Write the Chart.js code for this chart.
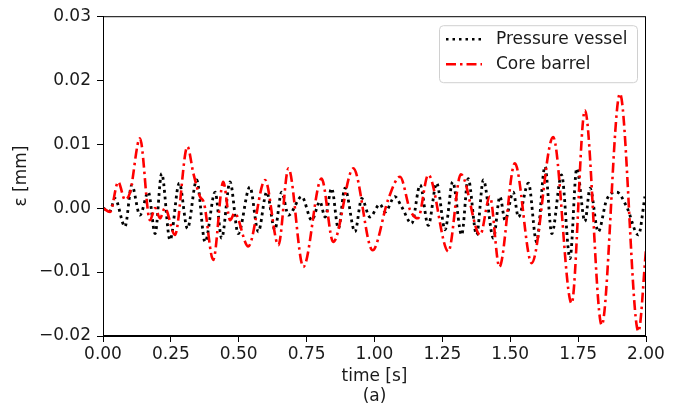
<!DOCTYPE html>
<html>
<head>
<meta charset="utf-8">
<script src="https://cdn.jsdelivr.net/npm/chart.js@4/dist/chart.umd.min.js"></script>
<style>
  html, body { margin: 0; padding: 0; background: #fff; }
  #wrap { width: 682px; height: 410px; }
</style>
</head>
<body>
<div id="wrap"><canvas id="chart" width="682" height="410"></canvas></div>
<script>
// pressure vessel (black dotted)
const pvTime = [0, 0.025, 0.044, 0.081, 0.106, 0.136, 0.167, 0.192, 0.216, 0.247, 0.281, 0.311,
  0.345, 0.376, 0.413, 0.437, 0.468, 0.498, 0.541, 0.572, 0.603, 0.633, 0.658, 0.683, 0.732,
  0.769, 0.799, 0.818, 0.842, 0.867, 0.891, 0.928, 0.953, 0.983, 1.02, 1.039, 1.075, 1.1,
  1.137, 1.168, 1.198, 1.229, 1.26, 1.288, 1.321, 1.345, 1.376, 1.401, 1.438, 1.462, 1.481,
  1.511, 1.53, 1.567, 1.597, 1.628, 1.653, 1.689, 1.72, 1.745, 1.775, 1.794, 1.824, 1.855,
  1.892, 1.929, 1.972, 1.996];
const pvValues = [0, -0.0005, 0.0015, -0.0029, 0.0036, -0.0011, 0.0025, -0.004, 0.0054, -0.005, 0.0039, -0.0032,
  0.0044, -0.0053, 0.0025, -0.0047, 0.0041, -0.004, 0.0033, -0.0037, 0.0025, -0.0034, 0.0025, -0.0011, 0.0018,
  -0.0019, 0.001, -0.0014, 0.0031, -0.0032, 0.0031, -0.0037, 0.0015, -0.0014, 0.0006, -0.0006, 0.0018, 0.0002,
  -0.0024, 0.0036, -0.0027, 0.0039, -0.0034, 0.0041, -0.0042, 0.0046, -0.0042, 0.0044, -0.0047, 0.0018, -0.0019,
  0.0025, -0.0014, 0.0039, -0.0053, 0.0065, -0.004, 0.0052, -0.0079, 0.0062, -0.0021, 0.0031, -0.0037, 0.0013,
  0.0025, 0.0002, -0.0042, 0.0018];

// core barrel (red dash-dot)
const cbTime = [0, 0.026, 0.056, 0.081, 0.1, 0.136, 0.173, 0.192, 0.21, 0.228, 0.265, 0.311,
  0.333, 0.357, 0.372, 0.406, 0.443, 0.468, 0.485, 0.535, 0.597, 0.646, 0.683, 0.738, 0.805,
  0.848, 0.922, 0.993, 1.05, 1.094, 1.131, 1.16, 1.198, 1.272, 1.318, 1.389, 1.425, 1.46,
  1.517, 1.579, 1.658, 1.726, 1.775, 1.837, 1.904, 1.972, 2.0];
const cbValues = [0, -0.0006, 0.0041, 0.0013, 0.0025, 0.0109, -0.0019, 0, -0.0016, 0, -0.0042, 0.0096,
  0.0054, 0.0018, 0.0008, -0.0081, 0.0041, -0.0019, -0.0008, -0.006, 0.0044, -0.0058, 0.0062, -0.0092, 0.0046,
  -0.0053, 0.0062, -0.0066, 0.0013, 0.0049, -0.0003, -0.0016, 0.0052, -0.0068, 0.0053, -0.0042, 0.0018, -0.0092,
  0.007, -0.0086, 0.0111, -0.0149, 0.0153, -0.0183, 0.0179, -0.0193, -0.0065];

const seriesNames = ['Pressure vessel', 'Core barrel'];
const xTicks = [0, 0.25, 0.5, 0.75, 1.0, 1.25, 1.5, 1.75, 2.0];
const yTicks = [-0.02, -0.01, 0, 0.01, 0.02, 0.03];

const FONT = 'DejaVu Sans';
const TXT = '#1a1a1a';
const FS = 17;

function fmt(v) {
  const s = Math.abs(v).toFixed(2);
  return v < -1e-9 ? '\u2212' + s : s;
}

const frameAndLegend = {
  id: 'frameAndLegend',
  afterDraw(chart) {
    const ctx = chart.ctx;
    const a = chart.chartArea;
    ctx.save();
    ctx.strokeStyle = '#000';
    ctx.lineWidth = 1;
    ctx.strokeRect(a.left + 0.5, a.top + 0.5, a.right - a.left - 1, a.bottom - a.top - 1);

    // legend box
    const bw = 198, bh = 57;
    const bx = a.right - 9 - bw, by = a.top + 9;
    ctx.beginPath();
    ctx.roundRect(bx + 0.5, by + 0.5, bw, bh, 4);
    ctx.fillStyle = 'rgba(255,255,255,0.8)';
    ctx.fill();
    ctx.strokeStyle = '#d0d0d0';
    ctx.stroke();

    const rows = [
      { y: by + 14, color: '#000', dash: [2.5, 4], w: 2.5 },
      { y: by + 39, color: '#ff0000', dash: [10, 4, 2.5, 4], w: 2.5 }
    ];
    rows.forEach((r, i) => {
      ctx.beginPath();
      ctx.setLineDash(r.dash);
      ctx.strokeStyle = r.color;
      ctx.lineWidth = r.w;
      ctx.moveTo(bx + 7, r.y);
      ctx.lineTo(bx + 43, r.y);
      ctx.stroke();
      ctx.setLineDash([]);
      ctx.fillStyle = TXT;
      ctx.font = FS + 'px "' + FONT + '"';
      ctx.textBaseline = 'middle';
      ctx.textAlign = 'left';
      ctx.fillText(seriesNames[i], bx + 57, r.y);
    });
    ctx.restore();
  }
};

const ctx = document.getElementById('chart').getContext('2d');
new Chart(ctx, {
  type: 'line',
  data: {
    datasets: [
      {
        label: seriesNames[0],
        data: pvTime.map((t, i) => ({ x: t, y: pvValues[i] })),
        borderColor: '#000',
        borderWidth: 2.8,
        borderDash: [2.8, 3.8],
        pointRadius: 0,
        cubicInterpolationMode: 'monotone',
        order: 1
      },
      {
        label: seriesNames[1],
        data: cbTime.map((t, i) => ({ x: t, y: cbValues[i] })),
        borderColor: '#ff0000',
        borderWidth: 2.6,
        borderDash: [10, 4, 2.5, 4],
        pointRadius: 0,
        cubicInterpolationMode: 'monotone',
        order: 0
      }
    ]
  },
  options: {
    responsive: false,
    animation: false,
    layout: { padding: { top: 15, right: 36, left: 0, bottom: 0 } },
    plugins: {
      legend: { display: false },
      tooltip: { enabled: false }
    },
    scales: {
      x: {
        type: 'linear',
        min: 0,
        max: 2,
        afterFit: s => { s.height = 74; },
        afterBuildTicks: s => { s.ticks = xTicks.map(v => ({ value: v })); },
        border: { display: true, color: '#000', width: 1 },
        grid: { drawOnChartArea: false, drawTicks: true, tickLength: 6, color: '#000' },
        ticks: {
          color: TXT, padding: 2, maxRotation: 0,
          font: { family: FONT, size: FS },
          callback: v => fmt(v)
        },
        title: {
          display: true,
          text: ['time [s]', '(a)'],
          color: TXT,
          font: { family: FONT, size: FS, lineHeight: 1.15 },
          padding: { top: 0, bottom: 4 }
        }
      },
      y: {
        min: -0.02,
        max: 0.03,
        afterFit: s => { s.width = 103; },
        afterBuildTicks: s => { s.ticks = yTicks.map(v => ({ value: v })); },
        border: { display: true, color: '#000', width: 1 },
        grid: { drawOnChartArea: false, drawTicks: true, tickLength: 6, color: '#000' },
        ticks: {
          color: TXT, padding: 6,
          font: { family: FONT, size: FS },
          callback: v => fmt(v)
        },
        title: {
          display: true,
          text: '\u03b5 [mm]',
          color: TXT,
          font: { family: FONT, size: FS, lineHeight: 1.2 },
          padding: { top: 11, bottom: 0 }
        }
      }
    }
  },
  plugins: [frameAndLegend]
});
</script>
</body>
</html>
